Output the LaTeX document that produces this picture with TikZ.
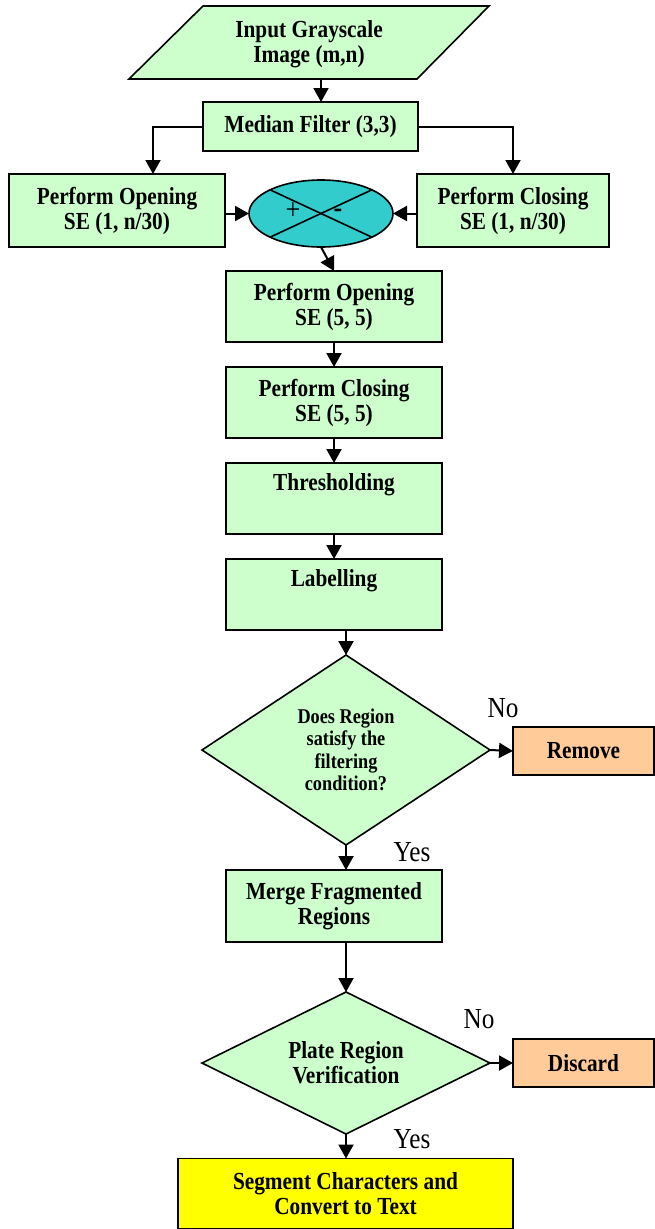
\documentclass[tikz,border=0pt]{standalone}
\usepackage{fontspec}
\setmainfont{Liberation Serif}[FakeStretch=0.87]
\usetikzlibrary{shapes.geometric,arrows.meta,calc}
\definecolor{boxgreen}{HTML}{CCFFCC}
\definecolor{boxorange}{HTML}{FFCC99}
\definecolor{ellcyan}{HTML}{33CCCC}
\definecolor{boxyellow}{HTML}{FFFF00}
\begin{document}
\begin{tikzpicture}[x=1pt,y=-1pt,
  arr/.style={line width=2pt,-{Triangle[length=14pt,width=15pt]}},
  box/.style={draw, line width=1.6pt, fill=boxgreen, align=center,
    font=\fontsize{24.5}{25}\selectfont\bfseries, inner sep=0pt, outer sep=0pt},
  dia/.style={diamond, aspect=1.5, draw, line width=1.6pt, fill=boxgreen, align=center,
    font=\fontsize{21}{22.3}\selectfont\bfseries, inner sep=0pt, outer sep=0pt},
  endbox/.style={box, fill=boxorange},
  lbl/.style={font=\fontsize{29}{30}\selectfont, inner sep=0pt},
]
\useasboundingbox[fill=white] (0,0) rectangle (655,1229);

% input parallelogram
\draw[line width=1.6pt, fill=boxgreen] (203,6) -- (489,6) -- (417,79) -- (129,79) -- cycle;
\node[font=\fontsize{24.5}{25}\selectfont\bfseries, align=center, inner sep=0pt] (inp) at (309,44) {Input Grayscale\\Image (m,n)};
\coordinate (pbot) at (321,79);

\node[box, minimum width=215pt, minimum height=49pt] (med) at (310.5,126.5) {Median Filter (3,3)};
\node[box, minimum width=216pt, minimum height=73pt] (open1) at (117,210.5) {Perform Opening\\SE (1, n/30)};
\node[box, minimum width=192pt, minimum height=73pt] (close1) at (513,210.5) {Perform Closing\\SE (1, n/30)};
\node[ellipse, draw, line width=1.6pt, fill=ellcyan, minimum width=144pt, minimum height=67pt, inner sep=0pt, outer sep=0pt] (ell) at (321,213.5) {};
\draw[line width=1.6pt] (ell.north west) -- (ell.south east);
\draw[line width=1.6pt] (ell.north east) -- (ell.south west);
\node[font=\fontsize{30}{30}\selectfont, inner sep=0pt] (plus) at (293,211) {+};
\node[font=\fontsize{30}{30}\selectfont\bfseries, inner sep=0pt] (minus) at (338,213) {-};

\node[box, minimum width=216pt, minimum height=71pt] (open2) at (334,306.5) {Perform Opening\\SE (5, 5)};
\node[box, minimum width=216pt, minimum height=71pt] (close2) at (334,402.5) {Perform Closing\\SE (5, 5)};
\node[box, minimum width=216pt, minimum height=71pt] (thr) at (334,498.5) {Thresholding\\\strut};
\node[box, minimum width=216pt, minimum height=71pt] (lab) at (334,594.5) {Labelling\\\strut};

\node[dia, minimum width=288pt, minimum height=190pt] (d1) at (346,750) {Does Region\\satisfy the\\filtering\\condition?};
\node[endbox, minimum width=141pt, minimum height=48pt] (rem) at (583.5,751) {Remove};
\node[box, minimum width=216pt, minimum height=72pt] (merge) at (334,906) {Merge Fragmented\\Regions};
\node[dia, minimum width=288pt, minimum height=142pt, font=\fontsize{24.5}{25}\selectfont\bfseries] (d2) at (346,1063) {Plate Region\\Verification};
\node[endbox, minimum width=141pt, minimum height=48pt] (disc) at (583.5,1063) {Discard};
\node[box, fill=boxyellow, minimum width=335pt, minimum height=70pt] (seg) at (345.5,1193.5) {Segment Characters and\\Convert to Text};

\node[lbl] (no1) at (503,708) {No};
\node[lbl] (yes1) at (412,852) {Yes};
\node[lbl] (no2) at (479,1019) {No};
\node[lbl] (yes2) at (412,1139) {Yes};

% connectors
\coordinate (o1t) at (153,174);
\draw[arr] (pbot) -- (pbot |- med.north);
\draw[arr] (med.west) -| (o1t);
\draw[arr] (med.east) -| (close1.north);
\draw[arr] (open1.east |- ell.west) -- (ell.west);
\draw[arr] (close1.west |- ell.east) -- (ell.east);
\draw[arr] (ell.south) -- (open2.north);
\draw[arr] (open2.south) -- (close2.north);
\draw[arr] (close2.south) -- (thr.north);
\draw[arr] (thr.south) -- (lab.north);
\draw[arr] (d1.north |- lab.south) -- (d1.north);
\draw[arr] (d1.east) -- (rem.west);
\draw[arr] (d1.south) -- (d1.south |- merge.north);
\draw[arr] (d2.north |- merge.south) -- (d2.north);
\draw[arr] (d2.east) -- (disc.west);
\draw[arr] (d2.south) -- (d2.south |- seg.north);
\end{tikzpicture}
\end{document}
